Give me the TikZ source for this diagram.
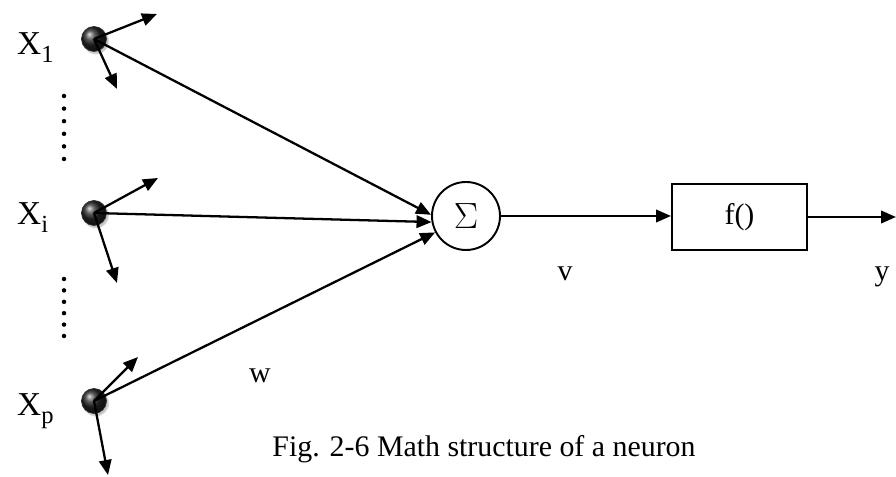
\documentclass[tikz,border=0pt]{standalone}
\usepackage{fontspec}
\setmainfont{Liberation Serif}
\usetikzlibrary{arrows.meta,positioning,shadows}
\newcommand{\idx}[1]{\raisebox{-0.5ex}{\fontsize{14}{14}\selectfont #1}}
\tikzset{
  >={Triangle[length=3mm,width=2.5mm]},
  wire/.style={->,line width=1.3pt},
  neuron/.style={circle,minimum size=5mm,inner sep=0pt,shading=ball,ball color=black!85,
    draw=black!80,circular drop shadow={shadow xshift=0.8pt,shadow yshift=-1pt,opacity=0.45}},
  sumnode/.style={circle,draw,line width=1.1pt,minimum size=13.6mm,inner sep=0pt},
  actbox/.style={draw,line width=1.1pt,minimum width=27mm,minimum height=13.2mm},
  lbl/.style={font=\fontsize{17}{20}\selectfont},
  inlbl/.style={font=\fontsize{19}{22}\selectfont,anchor=base west},
}
\begin{document}
\begin{tikzpicture}
  \useasboundingbox (0,0) rectangle (17.92,-9.54);
  % inputs
  \node[neuron] (x1) at (1.88,-0.78) {};
  \node[neuron] (xi) at (1.88,-4.26) {};
  \node[neuron] (xp) at (1.88,-8.02) {};
  \node[inlbl] (lx1) at (0.22,-1.10) {X\idx{1}};
  \node[inlbl] (lxi) at (0.22,-4.50) {X\idx{i}};
  \node[inlbl] (lxp) at (0.22,-8.32) {X\idx{p}};
  % dots between inputs
  \foreach \k in {0,...,5} {
    \fill (1.28,-1.92-0.252*\k) circle (0.045);
    \fill (1.28,-5.58-0.228*\k) circle (0.045);
  }
  % free ends of the side arrows
  \coordinate (a1) at (3.14,-0.28);
  \coordinate (b1) at (2.34,-1.78);
  \coordinate (ai) at (3.16,-3.56);
  \coordinate (bi) at (2.34,-5.66);
  \coordinate (ap) at (2.76,-7.14);
  \coordinate (bp) at (2.16,-9.50);
  \foreach \n in {1,i,p} {
    \draw[wire] (x\n.center) -- (a\n);
    \draw[wire] (x\n.center) -- (b\n);
  }
  % summation and activation
  \node[sumnode] (sum) at (9.32,-4.32) {\fontsize{22}{24}\selectfont$\Sigma$};
  \node[actbox,lbl] (act) at (14.79,-4.34) {f()};
  \coordinate (out) at (17.92,-4.34);
  \draw[wire] (x1.center) -- (sum.178);
  \draw[wire] (xi.center) -- (sum.190);
  \draw[wire] (xp.center) -- (sum.208);
  \draw[wire] (sum.east) -- (sum.east -| act.west);
  \draw[wire] (act.east) -- (act.east -| out);
  % labels
  \node[lbl,anchor=base] (w) at (5.20,-7.66) {w};
  \node[lbl,anchor=base] (v) at (11.30,-5.62) {v};
  \node[lbl,anchor=base] (y) at (17.64,-5.62) {y};
  \node[lbl,anchor=base] (cap) at (9.68,-9.14) {Fig. 2-6 Math structure of a neuron};
\end{tikzpicture}
\end{document}
